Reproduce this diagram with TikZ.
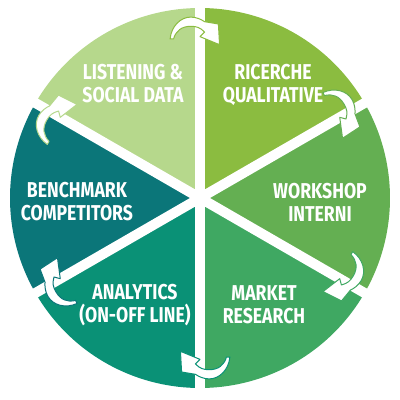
\documentclass[tikz,border=0pt]{standalone}
\usepackage{fontspec}
\usepackage{tikz}
\newfontfamily\slicefont[FakeStretch=0.82]{Fira Sans}

\definecolor{listengreen}{HTML}{B6D88C}
\definecolor{ricerchegreen}{HTML}{8BBC40}
\definecolor{workshopgreen}{HTML}{64AF52}
\definecolor{marketgreen}{HTML}{3FA862}
\definecolor{analyticsteal}{HTML}{0A9176}
\definecolor{benchteal}{HTML}{0B7679}

\tikzstyle{slicetext} = [text=white, align=center, inner sep=0pt, font=\slicefont\bfseries\fontsize{21.5}{23}\selectfont]
\tikzstyle{divider} = [white, line width=10pt]
\tikzstyle{turnarrow} = [fill=white, line width=1pt, line join=round]

\newcommand{\cyclearrow}[2]{%
  \begin{scope}[shift={(hub)}]
    \begin{scope}[shift={(#1:174pt)}, rotate={#1-90}, scale=1.15]
      \filldraw[turnarrow, draw=#2] (-26,-13) .. controls (-25,-2) and (-17,6) .. (-8,6)
        .. controls (-3,6) and (1,4) .. (4,2) -- (16,0) -- (17,-18) -- (0,-11) -- (4,-7)
        .. controls (0,-3) and (-3,-2) .. (-8,-2)
        .. controls (-16,-2) and (-21,-6) .. (-23,-13) -- cycle;
    \end{scope}
  \end{scope}}

\begin{document}
\begin{tikzpicture}[x=1pt, y=1pt]
\useasboundingbox (0,0) rectangle (400,400);

\coordinate (hub) at (200,202);

% slices
\fill[listengreen] (hub) -- ++(90:190pt) arc[start angle=90, end angle=150, radius=190pt] -- cycle;
\fill[ricerchegreen] (hub) -- ++(30:190pt) arc[start angle=30, end angle=90, radius=190pt] -- cycle;
\fill[workshopgreen] (hub) -- ++(-30:190pt) arc[start angle=-30, end angle=30, radius=190pt] -- cycle;
\fill[marketgreen] (hub) -- ++(-90:190pt) arc[start angle=-90, end angle=-30, radius=190pt] -- cycle;
\fill[analyticsteal] (hub) -- ++(210:190pt) arc[start angle=210, end angle=270, radius=190pt] -- cycle;
\fill[benchteal] (hub) -- ++(150:190pt) arc[start angle=150, end angle=210, radius=190pt] -- cycle;

% white gaps
\draw[divider] (hub) -- ++(90:196pt);
\draw[divider] (hub) -- ++(30:196pt);
\draw[divider] (hub) -- ++(-30:196pt);
\draw[divider] (hub) -- ++(-90:196pt);
\draw[divider] (hub) -- ++(210:196pt);
\draw[divider] (hub) -- ++(150:196pt);

\node (listening) [slicetext] at (133,316) {LISTENING \&\\SOCIAL DATA};
\node (ricerche) [slicetext] at (273,315) {RICERCHE\\QUALITATIVE};
\node (workshop) [slicetext] at (320,198) {WORKSHOP\\INTERNI};
\node (market) [slicetext] at (264,95) {MARKET\\RESEARCH};
\node (analytics) [slicetext] at (135,95) {ANALYTICS\\(ON-OFF LINE)};
\node (benchmark) [slicetext] at (77,198) {BENCHMARK\\COMPETITORS};

% turning arrows
\cyclearrow{90}{ricerchegreen}
\cyclearrow{30}{workshopgreen}
\cyclearrow{-30}{marketgreen}
\cyclearrow{-90}{analyticsteal}
\cyclearrow{210}{benchteal}
\cyclearrow{150}{listengreen}

\end{tikzpicture}
\end{document}
